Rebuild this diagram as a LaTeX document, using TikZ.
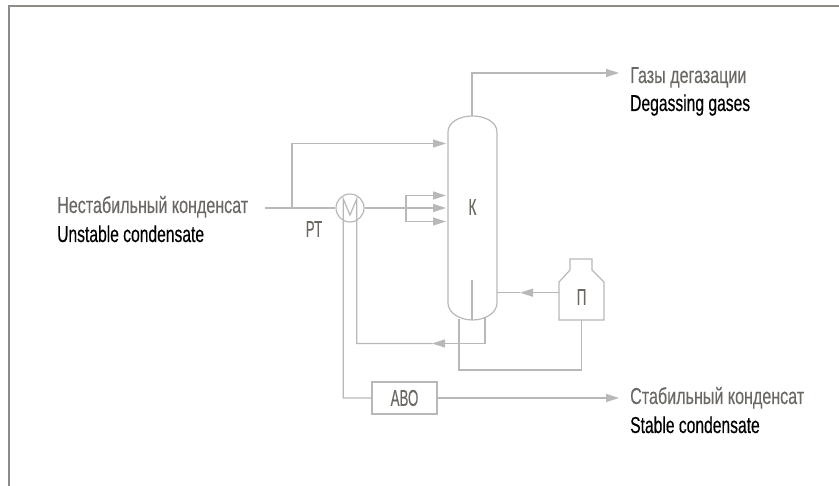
\documentclass[tikz,border=0pt]{standalone}
\usepackage{fontspec}
\setmainfont[FakeStretch=0.70,FakeBold=0.25]{Liberation Sans}
\newfontfamily\enfont[FakeStretch=0.68,FakeBold=0.3]{Liberation Sans}
\newfontfamily\tagfont[FakeStretch=0.58,FakeBold=0.25]{Liberation Sans}
\usetikzlibrary{arrows.meta,positioning}
\definecolor{pipegray}{HTML}{B8B8B8}
\definecolor{framegray}{HTML}{8F8C88}
\definecolor{textgray}{HTML}{6B6864}
\tikzset{
  pipe/.style={draw=pipegray, line width=1.2pt},
  flow/.style={pipe, -{Triangle[length=13pt,width=8pt,fill=pipegray]}},
  tag/.style={text=textgray, font=\tagfont\fontsize{23}{25}\selectfont, inner sep=0pt},
  ru/.style={text=textgray, font=\fontsize{23}{25}\selectfont, anchor=base west, inner sep=0pt},
  en/.style={text=black, font=\enfont\fontsize{23}{25}\selectfont, anchor=base west, inner sep=0pt}
}
\begin{document}
\begin{tikzpicture}[x=1pt,y=-1pt]
\useasboundingbox (0,0) rectangle (839,486);

% Frame, open to the right and at the bottom
\draw[framegray, line width=2pt] (8.5,486) -- (8.5,6.5) -- (839,6.5);

% Column K
\draw[pipe] (448,132) .. controls (448,122) and (460,116) .. (472.5,116)
  .. controls (485,116) and (497,122) .. (497,132) -- (497,303)
  .. controls (497,313) and (485,320) .. (472.5,320)
  .. controls (460,320) and (448,313) .. (448,303) -- cycle;
\node[tag] (colK) at (472.5,207) {К};
\coordinate (colTop) at (472,116);
\coordinate (colInner) at (472,280);
\coordinate (colBot) at (472,320);
\draw[pipe] (colInner) -- (colBot);

% Heat exchanger
\node[pipe, circle, minimum size=28pt, inner sep=0pt] (hx) at (350,208) {};
\node[tag] (rt) at (314,229) {РТ};

% Air cooler
\node[pipe, rectangle, minimum width=65pt, minimum height=32pt, inner sep=0pt, tag] (abo) at (404.5,398) {АВО};

% Furnace
\draw[pipe] (570,259) -- (592,259) -- (592,270) -- (604,282) -- (604,320)
  -- (559,320) -- (559,282) -- (570,270) -- cycle;
\node[tag] (furn) at (581.5,297) {П};

% Feed
\coordinate (feedIn) at (265,208);
\coordinate (feedUp) at (292,208);
\draw[pipe] (feedIn) -- (hx.west);
\coordinate (topFeed) at (292,143.5);
\draw[flow] (feedUp) -- (topFeed) -- (446,143.5);

% Three inlets after the exchanger
\coordinate (split) at (406,208);
\draw[flow] (hx.east) -- (446,208);
\foreach \y in {195.5,221.5}
  \draw[flow] (split) -- (406,\y) -- (446,\y);

% Gas to the top right
\coordinate (gasTurn) at (472,73);
\draw[flow] (colTop) -- (gasTurn) -- (619,73);

% Bottoms through the exchanger, then the M inside the circle
\coordinate (botOut) at (485,318);
\coordinate (botTurn) at (485,343.5);
\coordinate (botTip) at (432,343.5);
\draw[flow] (botOut) -- (botTurn) -- (botTip);
\draw[pipe] (botTip) -- (356.7,343.5) -- (356.7,199) -- (350,215) -- (343.3,199) -- (343.3,398) -- (abo.west);

% Furnace loop
\coordinate (loopOut) at (459,319);
\draw[pipe] (loopOut) -- (459,370) -- (581.5,370) -- (581.5,320);
\coordinate (retTip) at (520,292.7);
\draw[flow] (559,292.7) -- (retTip);
\draw[pipe] (retTip) -- (497,292.7);

% Product line
\draw[flow] (abo.east) -- (619,398);

% Labels
\node[ru] (feedRu) at (57,213) {Нестабильный конденсат};
\node[en] (feedEn) at (57,242) {Unstable condensate};
\node[ru] (gasRu) at (630,83) {Газы дегазации};
\node[en] (gasEn) at (630,111) {Degassing gases};
\node[ru] (prodRu) at (630,404) {Стабильный конденсат};
\node[en] (prodEn) at (630,433) {Stable condensate};
\end{tikzpicture}
\end{document}
